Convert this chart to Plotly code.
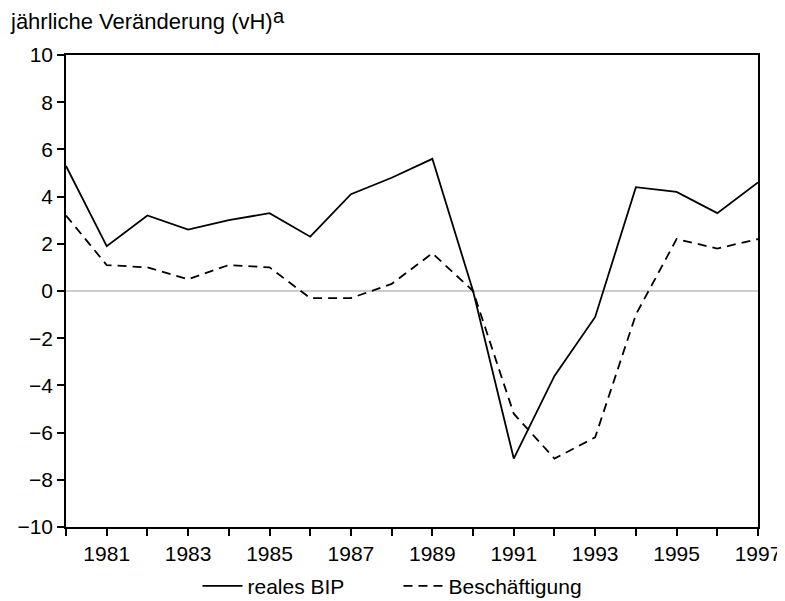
import plotly.graph_objects as go

years = list(range(1980, 1998))
bip = [5.3, 1.9, 3.2, 2.6, 3.0, 3.3, 2.3, 4.1, 4.8, 5.6, 0.0,
       -7.1, -3.6, -1.1, 4.4, 4.2, 3.3, 4.6]
beschaeftigung = [3.2, 1.1, 1.0, 0.5, 1.1, 1.0, -0.3, -0.3, 0.3, 1.6, 0.0,
                  -5.2, -7.1, -6.2, -1.0, 2.2, 1.8, 2.2]
y_ticks = list(range(-10, 11, 2))
x_labels = [str(y) if y % 2 == 1 else "" for y in years]

fig = go.Figure()
fig.add_trace(go.Scatter(
    x=years, y=bip, mode="lines", name="reales BIP",
    line=dict(color="black", width=1.8),
))
fig.add_trace(go.Scatter(
    x=years, y=beschaeftigung, mode="lines", name="Beschäftigung",
    line=dict(color="black", width=1.8, dash="9px,6px"),
))

# zero line in grey
fig.add_hline(y=0, line_color="#9a9a9a", line_width=1.2, layer="below")

# title with raised footnote letter
fig.add_annotation(
    xref="paper", yref="paper", x=-0.083, y=1.042,
    xanchor="left", yanchor="bottom", showarrow=False, borderpad=0,
    text="jährliche Veränderung (vH)",
    font=dict(size=22, color="black"),
)
fig.add_annotation(
    xref="paper", yref="paper", x=0.298, y=1.058,
    xanchor="left", yanchor="bottom", showarrow=False, borderpad=0,
    text="a", font=dict(size=20, color="black"),
)

fig.update_layout(
    width=777, height=593,
    paper_bgcolor="white", plot_bgcolor="white",
    font=dict(family="Liberation Sans, Arial, sans-serif", size=21, color="black"),
    margin=dict(l=58, r=27, t=47, b=74, autoexpand=False),
    showlegend=True,
    legend=dict(orientation="h", x=0.19, xanchor="left", y=-0.082, yanchor="top",
                font=dict(size=21), itemwidth=40, entrywidth=146,
                entrywidthmode="pixels"),
)
fig.update_xaxes(
    range=[1980, 1997], tickvals=years, ticktext=x_labels,
    ticks="outside", ticklen=7, tickwidth=1.5, tickcolor="black",
    showline=True, linecolor="black", linewidth=1.5, mirror=True,
    showgrid=False, zeroline=False, ticklabeloverflow="allow",
)
fig.update_yaxes(
    range=[-10, 10], tickvals=y_ticks,
    ticks="outside", ticklen=7, tickwidth=1.5, tickcolor="black",
    showline=True, linecolor="black", linewidth=1.5, mirror=True,
    showgrid=False, zeroline=False, tickformat="d",
)

fig.write_html("out.html")
